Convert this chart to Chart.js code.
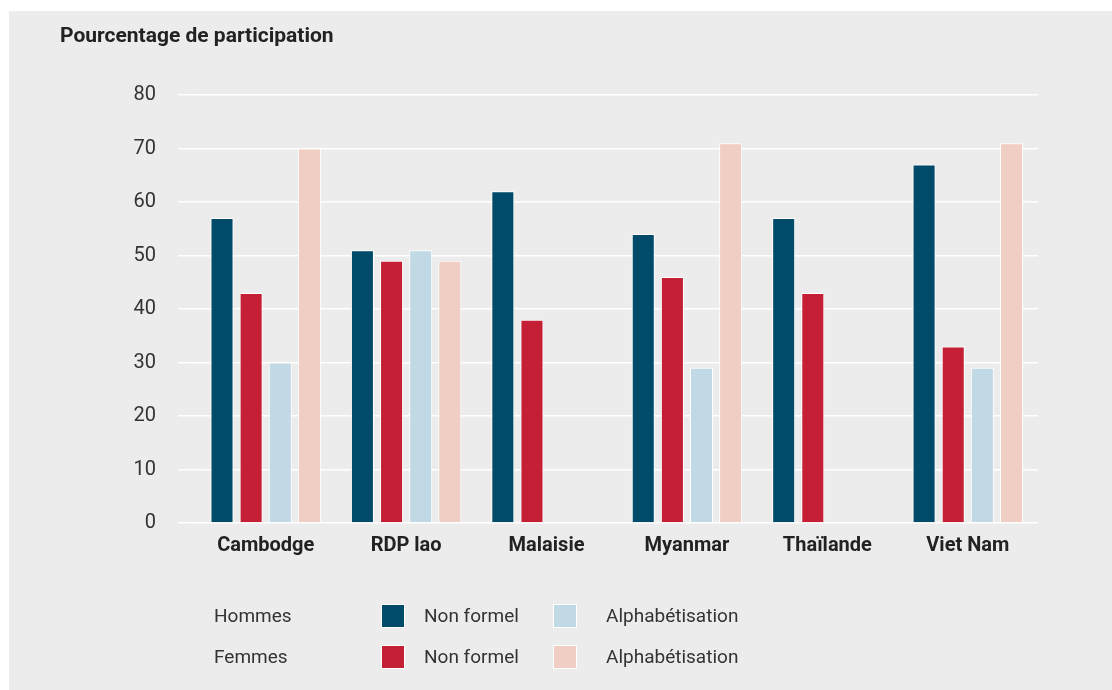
<!DOCTYPE html>
<html>
<head>
<meta charset="utf-8">
<script src="https://cdn.jsdelivr.net/npm/chart.js@4"></script>
<style>
    body { margin: 0; background: #fff; width: 1112px; height: 690px; position: relative; overflow: hidden; }
    #panel { position: absolute; left: 9px; top: 11px; width: 1103px; height: 679px; background: #ececec; }
    #chart { position: absolute; left: 0; top: 0; }
    .legend { position: absolute; font-family: 'Liberation Sans Narrow', 'Roboto', sans-serif; font-size: 19px; color: #333; line-height: 24px; }
    .swatch { position: absolute; width: 22px; height: 22px; border: 1px solid #fff; }
</style>
</head>
<body>
<div id="panel"></div>
<canvas id="chart" width="1112" height="690"></canvas>

<div class="legend" style="left:214px; top:604px;">Hommes</div>
<div class="swatch" style="left:381px; top:604px; background:#004a6a;"></div>
<div class="legend" style="left:424px; top:604px;">Non formel</div>
<div class="swatch" style="left:553px; top:604px; background:#c1d9e4;"></div>
<div class="legend" style="left:606px; top:604px;">Alphabétisation</div>

<div class="legend" style="left:214px; top:645px;">Femmes</div>
<div class="swatch" style="left:381px; top:645px; background:#c41f35;"></div>
<div class="legend" style="left:424px; top:645px;">Non formel</div>
<div class="swatch" style="left:553px; top:645px; background:#f1cec4;"></div>
<div class="legend" style="left:606px; top:645px;">Alphabétisation</div>

<script>
const countries = ['Cambodge', 'RDP lao', 'Malaisie', 'Myanmar', 'Thaïlande', 'Viet Nam'];
const hommesNonFormel = [57, 51, 62, 54, 57, 67];
const femmesNonFormel = [43, 49, 38, 46, 43, 33];
const hommesAlpha = [30, 51, null, 29, null, 29];
const femmesAlpha = [70, 49, null, 71, null, 71];
const yTicks = [0, 10, 20, 30, 40, 50, 60, 70, 80];

const narrow = "'Liberation Sans Narrow', 'Roboto', sans-serif";

// title drawn at a fixed spot, top left of the panel
const titlePlugin = {
    id: 'titleText',
    beforeDraw(chart) {
        const ctx = chart.ctx;
        ctx.save();
        ctx.font = 'bold 21px ' + narrow;
        ctx.fillStyle = '#222';
        ctx.textBaseline = 'middle';
        ctx.fillText('Pourcentage de participation', 60, 37);
        ctx.restore();
    }
};

function makeSet(label, values, color) {
    return {
        label: label,
        data: values,
        backgroundColor: color,
        borderColor: '#ffffff',
        borderWidth: 1,
        categoryPercentage: 0.83,
        barPercentage: 0.79
    };
}

new Chart(document.getElementById('chart'), {
    type: 'bar',
    data: {
        labels: countries,
        datasets: [
            makeSet('Hommes Non formel', hommesNonFormel, '#004a6a'),
            makeSet('Femmes Non formel', femmesNonFormel, '#c41f35'),
            makeSet('Hommes Alphabétisation', hommesAlpha, '#c1d9e4'),
            makeSet('Femmes Alphabétisation', femmesAlpha, '#f1cec4')
        ]
    },
    options: {
        responsive: false,
        animation: false,
        layout: { padding: { top: 95, right: 74, left: 0, bottom: 0 } },
        plugins: {
            legend: { display: false },
            tooltip: { enabled: false }
        },
        scales: {
            x: {
                grid: { display: false, drawTicks: false },
                border: { display: false },
                ticks: {
                    color: '#222',
                    font: { family: narrow, size: 20, weight: 'bold' },
                    padding: 11
                },
                afterFit(scale) { scale.height = 690 - 523; }
            },
            y: {
                min: 0,
                max: 80,
                afterBuildTicks(scale) { scale.ticks = yTicks.map(v => ({ value: v })); },
                grid: { color: '#ffffff', lineWidth: 1.5, drawTicks: true, tickLength: 17.5, tickColor: '#ffffff' },
                border: { display: false },
                ticks: {
                    color: '#333',
                    font: { family: narrow, size: 20 },
                    padding: 22
                },
                afterFit(scale) { scale.width = 195.5; }
            }
        }
    },
    plugins: [titlePlugin]
});
</script>
</body>
</html>
